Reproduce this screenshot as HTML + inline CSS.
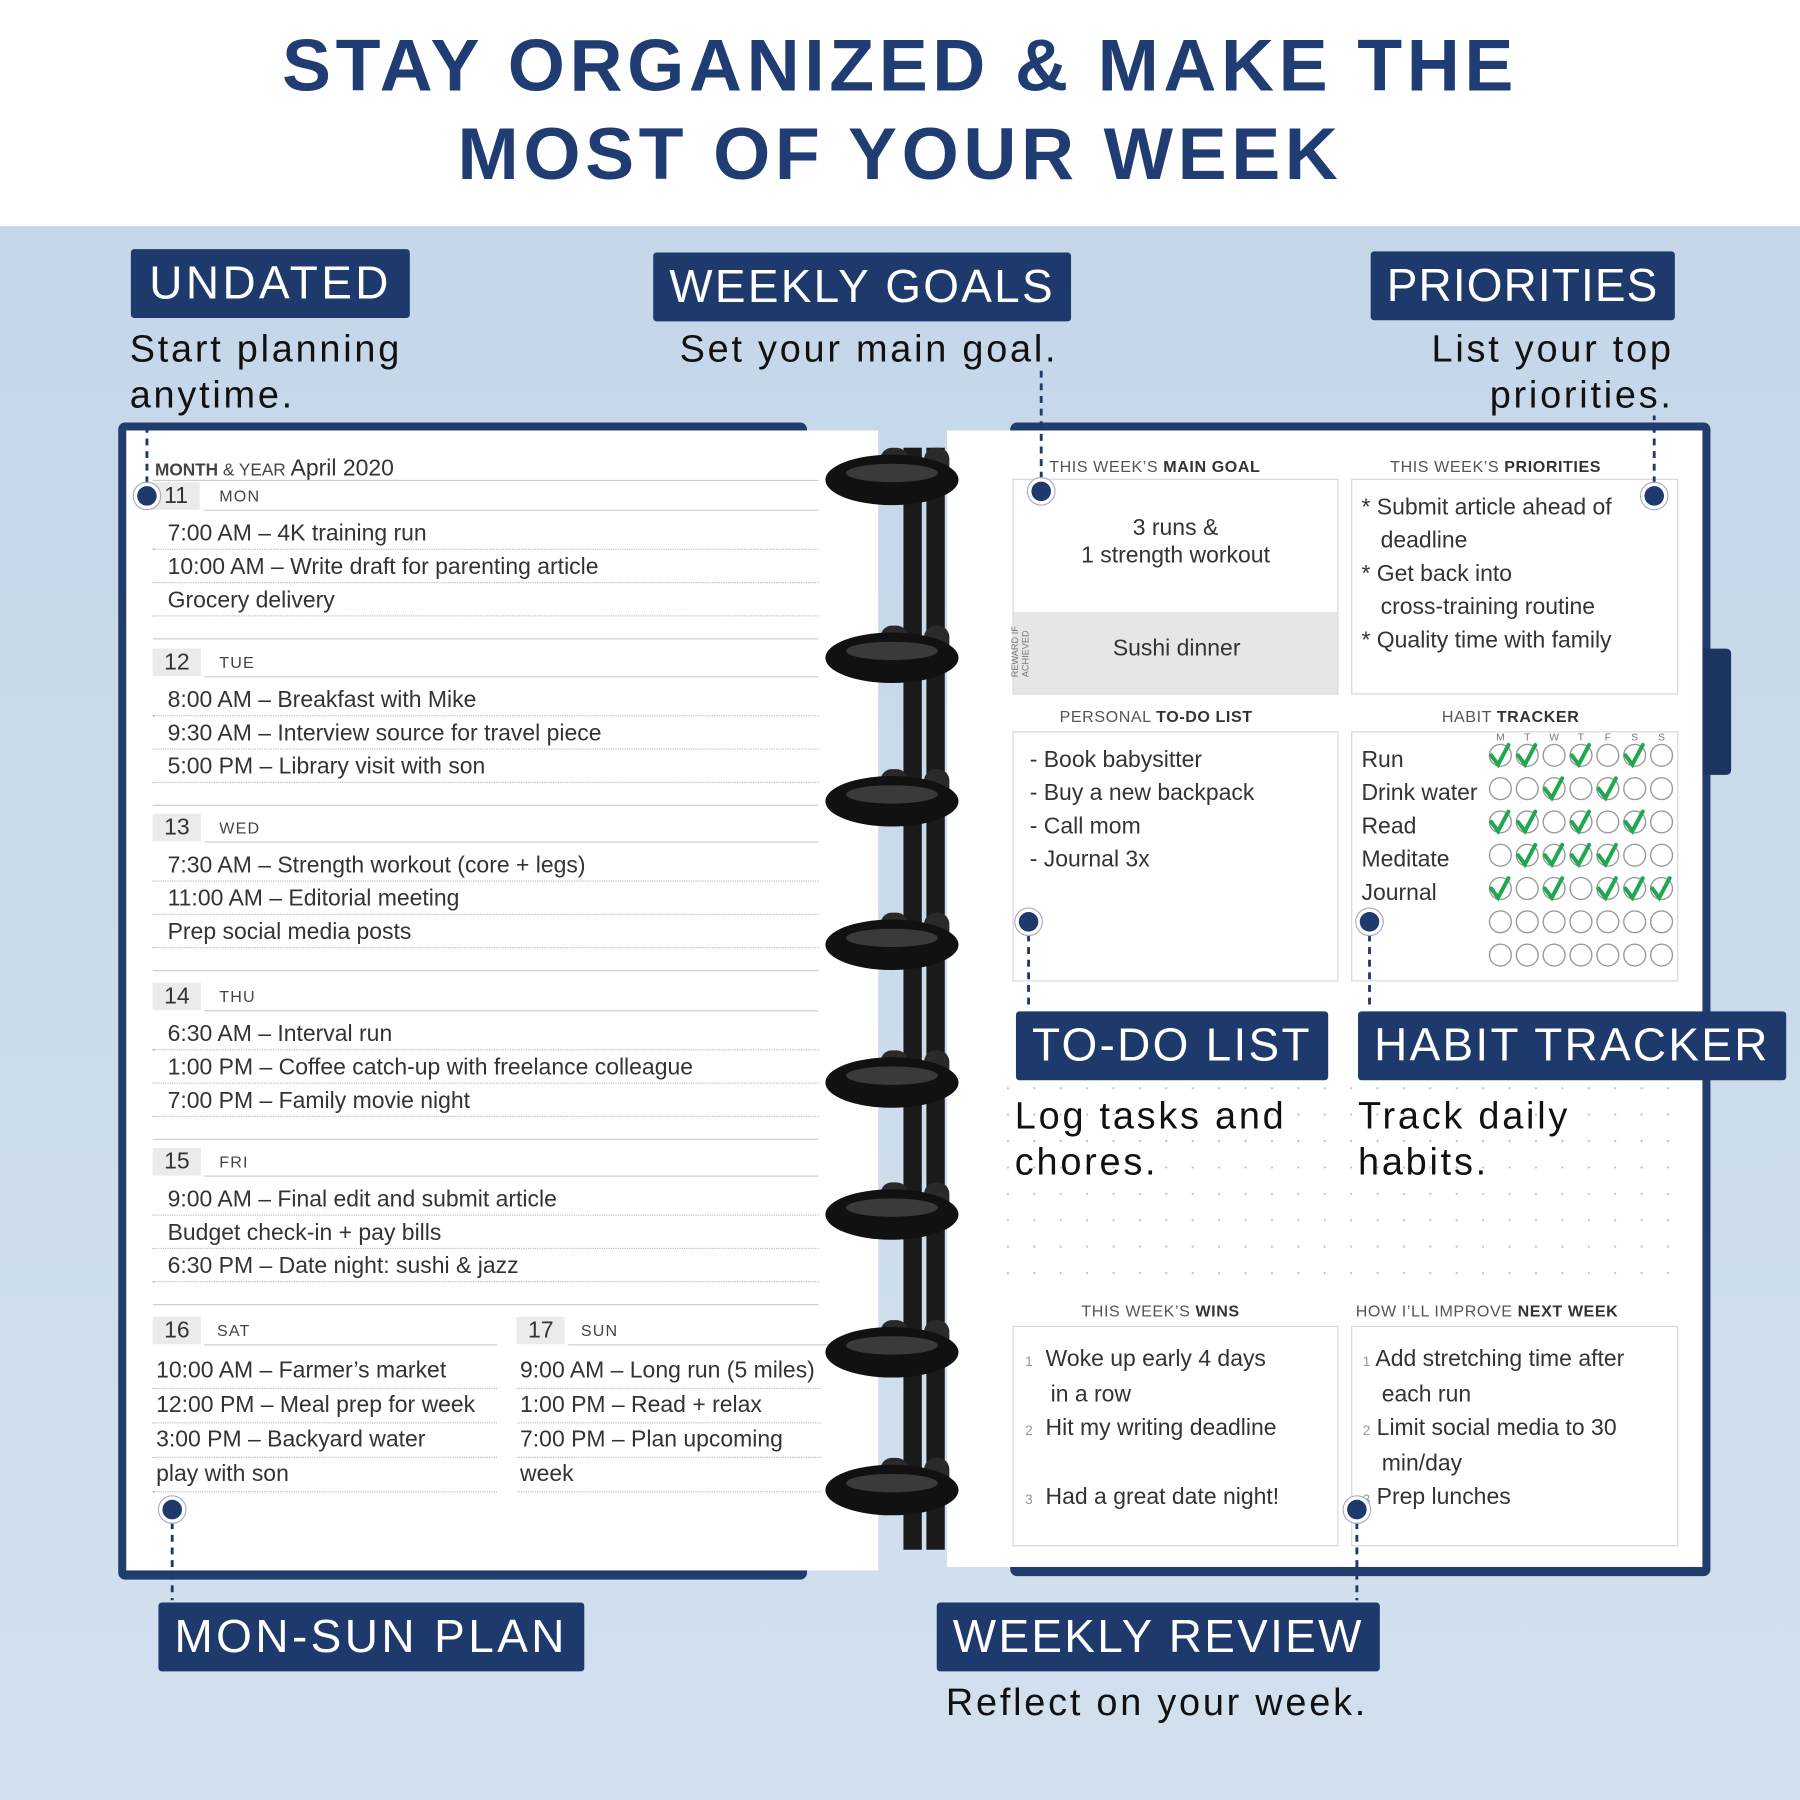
<!DOCTYPE html>
<html><head><meta charset="utf-8">
<style>
html,body{margin:0;padding:0;width:1800px;height:1800px;overflow:hidden;background:#c8d8e9}
#w{position:absolute;left:0;top:0;width:1568px;height:1568px;transform:scale(1.147959);transform-origin:0 0;font-family:"Liberation Sans",sans-serif;background:linear-gradient(#c3d5e8,#d3e0ee)}
.a{position:absolute;white-space:nowrap}
.hd{left:0;top:0;width:1568px;height:197px;background:#fff}
.t{font-weight:bold;color:#1f3d72;font-size:64px;letter-spacing:4px;text-align:center;width:1568px;left:0}
.lb{background:#1e3a6c;color:#fff;font-size:40px;letter-spacing:2px;line-height:60px;padding:0 14px;border-radius:3px}
.sb{font-size:33px;color:#111;letter-spacing:2.4px;line-height:40px}
.pg{background:#fff}
.hw{font-family:"Liberation Sans Narrow","Liberation Sans",sans-serif;font-size:20px;color:#333;letter-spacing:0}
.cap{font-size:14px;color:#555;letter-spacing:.5px}
.cap b{color:#333}
.box{border:1.5px solid #d6d6d6;background:#fff}
.dn{background:#ebebeb;font-size:20px;color:#333;padding:0 10px;line-height:24px}
.dl{font-size:14px;color:#444;letter-spacing:1px}
.ln{height:0;border-top:1px dotted #bbb}
.sep{height:0;border-top:1.5px solid #ccc}
</style></head><body><div id="w">
<div class="a hd"></div>
<div class="a t" style="top:20px">STAY ORGANIZED &amp; MAKE THE</div>
<div class="a t" style="top:97px">MOST OF YOUR WEEK</div>

<div class="a" style="left:103px;top:368px;width:600px;height:1008px;background:#213d6b;border-radius:6px"></div>
<div class="a" style="left:880px;top:368px;width:610px;height:1005px;background:#213d6b;border-radius:6px"></div>
<div class="a" style="left:1480px;top:565px;width:28px;height:110px;background:#1c355f;border-radius:4px"></div>
<div class="a pg" style="left:110px;top:375px;width:655px;height:993px"></div>
<div class="a pg" style="left:825px;top:375px;width:658px;height:990px"></div>

<div class="a" style="left:135px;top:397px;font-size:15px;color:#444"><b>MONTH</b> &amp; YEAR <span class="hw" style="font-size:20px">April 2020</span></div>
<div class="a sep" style="left:133px;top:418px;width:580px"></div>
<div id="left"></div>

<div class="a cap" style="left:914px;top:398px">THIS WEEK’S <b>MAIN GOAL</b></div>
<div class="a cap" style="left:1211px;top:398px">THIS WEEK’S <b>PRIORITIES</b></div>
<div class="a box" style="left:882px;top:417px;width:282px;height:186px"></div>
<div class="a" style="left:883px;top:533px;width:282px;height:71px;background:#e6e6e6"></div>
<div class="a hw" style="left:882px;top:448px;width:284px;text-align:center;line-height:24px">3 runs &amp;<br>1 strength workout</div>
<div class="a hw" style="left:910px;top:554px;width:230px;text-align:center">Sushi dinner</div>
<div class="a" style="left:880px;top:590px;font-size:8px;color:#777;transform:rotate(-90deg);transform-origin:0 0;line-height:9px">REWARD IF<br>ACHIEVED</div>
<div class="a box" style="left:1177px;top:417px;width:283px;height:186px"></div>
<div class="a hw" style="left:1186px;top:428px;line-height:29px">* Submit article ahead of<br>&nbsp;&nbsp;&nbsp;deadline<br>* Get back into<br>&nbsp;&nbsp;&nbsp;cross-training routine<br>* Quality time with family</div>

<div class="a cap" style="left:923px;top:616px">PERSONAL <b>TO-DO LIST</b></div>
<div class="a cap" style="left:1256px;top:616px">HABIT <b>TRACKER</b></div>
<div class="a box" style="left:882px;top:637px;width:282px;height:216px"></div>
<div class="a box" style="left:1177px;top:637px;width:283px;height:216px"></div>
<div class="a hw" style="left:897px;top:648px;line-height:29px">- Book babysitter<br>- Buy a new backpack<br>- Call mom<br>- Journal 3x</div>
<div class="a hw" style="left:1186px;top:648px;line-height:29px">Run<br>Drink water<br>Read<br>Meditate<br>Journal</div>
<svg class="a" id="hab" style="left:1280px;top:630px" width="190" height="220"></svg>

<div class="a cap" style="left:942px;top:1134px">THIS WEEK’S <b>WINS</b></div>
<div class="a cap" style="left:1181px;top:1134px">HOW I’LL IMPROVE <b>NEXT WEEK</b></div>
<div class="a box" style="left:882px;top:1155px;width:282px;height:190px"></div>
<div class="a box" style="left:1177px;top:1155px;width:283px;height:190px"></div>
<div class="a hw" style="left:893px;top:1170px;line-height:29px"><span style="font-size:12px;color:#999">1</span> &nbsp;Woke up early 4 days<br>&nbsp;&nbsp;&nbsp;&nbsp;in a row<br><span style="font-size:12px;color:#999">2</span> &nbsp;Hit my writing deadline<br>&nbsp;<br><span style="font-size:12px;color:#999">3</span> &nbsp;Had a great date night!</div>
<div class="a hw" style="left:1187px;top:1170px;line-height:29px"><span style="font-size:12px;color:#999">1</span> Add stretching time after<br>&nbsp;&nbsp;&nbsp;each run<br><span style="font-size:12px;color:#999">2</span> Limit social media to 30<br>&nbsp;&nbsp;&nbsp;min/day<br><span style="font-size:12px;color:#999">3</span> Prep lunches</div>
<svg class="a" id="dots" style="left:870px;top:940px" width="610" height="190"></svg>

<svg class="a" id="rings" style="left:715px;top:380px" width="120" height="990"></svg>

<svg class="a" style="left:0;top:0" width="1568" height="1568" id="co"></svg>

<div class="a lb" style="left:114px;top:217px;padding:0 16px;letter-spacing:3px">UNDATED</div>
<div class="a sb" style="left:113px;top:284px">Start planning<br>anytime.</div>
<div class="a lb" style="left:569px;top:220px">WEEKLY GOALS</div>
<div class="a sb" style="left:592px;top:284px">Set your main goal.</div>
<div class="a lb" style="left:1194px;top:219px;letter-spacing:1px">PRIORITIES</div>
<div class="a sb" style="left:1100px;top:284px;width:358px;text-align:right;white-space:normal;padding-left:80px;box-sizing:border-box">List your top priorities.</div>
<div class="a lb" style="left:885px;top:881px">TO-DO LIST</div>
<div class="a sb" style="left:884px;top:952px">Log tasks and<br>chores.</div>
<div class="a lb" style="left:1183px;top:881px">HABIT TRACKER</div>
<div class="a sb" style="left:1183px;top:952px">Track daily<br>habits.</div>
<div class="a lb" style="left:138px;top:1396px;letter-spacing:3px">MON-SUN PLAN</div>
<div class="a lb" style="left:816px;top:1396px">WEEKLY REVIEW</div>
<div class="a sb" style="left:824px;top:1463px">Reflect on your week.</div>
</div>
<script>
var L=document.getElementById('left'),h='';
var days=[[11,'MON',420,['7:00 AM – 4K training run','10:00 AM – Write draft for parenting article','Grocery delivery']],
[12,'TUE',565,['8:00 AM – Breakfast with Mike','9:30 AM – Interview source for travel piece','5:00 PM – Library visit with son']],
[13,'WED',709,['7:30 AM – Strength workout (core + legs)','11:00 AM – Editorial meeting','Prep social media posts']],
[14,'THU',856,['6:30 AM – Interval run','1:00 PM – Coffee catch-up with freelance colleague','7:00 PM – Family movie night']],
[15,'FRI',1000,['9:00 AM – Final edit and submit article','Budget check-in + pay bills','6:30 PM – Date night: sushi & jazz']]];
days.forEach(function(d){var y=d[2];
h+='<div class="a dn" style="left:133px;top:'+y+'px">'+d[0]+'</div><div class="a dl" style="left:191px;top:'+(y+4)+'px">'+d[1]+'</div><div class="a sep" style="left:178px;top:'+(y+24)+'px;width:535px"></div>';
d[3].forEach(function(t,i){h+='<div class="a hw" style="left:146px;top:'+(y+34+i*29)+'px">'+t.replace('&','&amp;')+'</div><div class="a ln" style="left:133px;top:'+(y+58+i*29)+'px;width:580px"></div>';});
h+='<div class="a sep" style="left:133px;top:'+(y+136)+'px;width:580px"></div>';});
[[16,'SAT',133,['10:00 AM – Farmer’s market','12:00 PM – Meal prep for week','3:00 PM – Backyard water','play with son']],[17,'SUN',450,['9:00 AM – Long run (5 miles)','1:00 PM – Read + relax','7:00 PM – Plan upcoming','week']]].forEach(function(d){var y=1147,x=d[2];
h+='<div class="a dn" style="left:'+x+'px;top:'+y+'px">'+d[0]+'</div><div class="a dl" style="left:'+(x+56)+'px;top:'+(y+4)+'px">'+d[1]+'</div><div class="a sep" style="left:'+(x+45)+'px;top:'+(y+24)+'px;width:'+(x<200?255:230)+'px"></div>';
d[3].forEach(function(t,i){h+='<div class="a hw" style="left:'+(x+3)+'px;top:'+(y+36+i*30)+'px">'+t+'</div><div class="a ln" style="left:'+x+'px;top:'+(y+62+i*30)+'px;width:'+(x<200?300:265)+'px"></div>';});});
L.innerHTML=h;
var ck=[[1,1,0,1,0,1,0],[0,0,1,0,1,0,0],[1,1,0,1,0,1,0],[0,1,1,1,1,0,0],[1,0,1,0,1,1,1],[0,0,0,0,0,0,0],[0,0,0,0,0,0,0]];
var s='';'MTWTFSS'.split('').forEach(function(c,i){s+='<text x="'+(27+i*23.4)+'" y="15" font-size="9" fill="#777" text-anchor="middle" font-family="Liberation Sans">'+c+'</text>';});
ck.forEach(function(r,j){r.forEach(function(v,i){var cx=27+i*23.4,cy=28+j*29;s+='<circle cx="'+cx+'" cy="'+cy+'" r="9.5" fill="none" stroke="#999" stroke-width="1.2"/>';if(v)s+='<path d="M'+(cx-8)+' '+cy+' l6 8 l9 -17" fill="none" stroke="#1fa84f" stroke-width="3.5" stroke-linecap="round"/>';});});
document.getElementById('hab').innerHTML=s;
s='';for(var y=8;y<190;y+=23)for(var x=8;x<600;x+=23)s+='<circle cx="'+x+'" cy="'+y+'" r="1" fill="#c4c4c4"/>';
document.getElementById('dots').innerHTML=s;
s='<rect x="72" y="10" width="16" height="960" fill="#1a1a1a"/><rect x="92" y="10" width="16" height="960" fill="#1a1a1a"/>';
[30,185,310,435,555,670,790,910].forEach(function(y){s+='<rect x="52" y="'+(y-20)+'" width="24" height="36" rx="10" fill="#2a2a2a"/><rect x="90" y="'+(y-20)+'" width="22" height="36" rx="10" fill="#2a2a2a"/><ellipse cx="62" cy="'+(y+8)+'" rx="58" ry="22" fill="#111"/><ellipse cx="62" cy="'+(y+2)+'" rx="40" ry="8" fill="#3a3a3a"/>';});
document.getElementById('rings').innerHTML=s;
s='';function m(x,y,x2,y2){s+='<line x1="'+x+'" y1="'+y+'" x2="'+x2+'" y2="'+y2+'" stroke="#1e3a6c" stroke-width="2.5" stroke-dasharray="6,5"/><circle cx="'+x+'" cy="'+y+'" r="10" fill="#1e3a6c" stroke="#fff" stroke-width="3"/><circle cx="'+x+'" cy="'+y+'" r="12" fill="none" stroke="#aac" stroke-width="1"/>';}
m(128,432,128,372);m(907,428,907,322);m(1441,432,1441,362);m(896,803,896,880);m(1193,803,1193,880);m(150,1315,150,1394);m(1182,1315,1182,1394);
document.getElementById('co').innerHTML=s;
</script>
</body></html>
